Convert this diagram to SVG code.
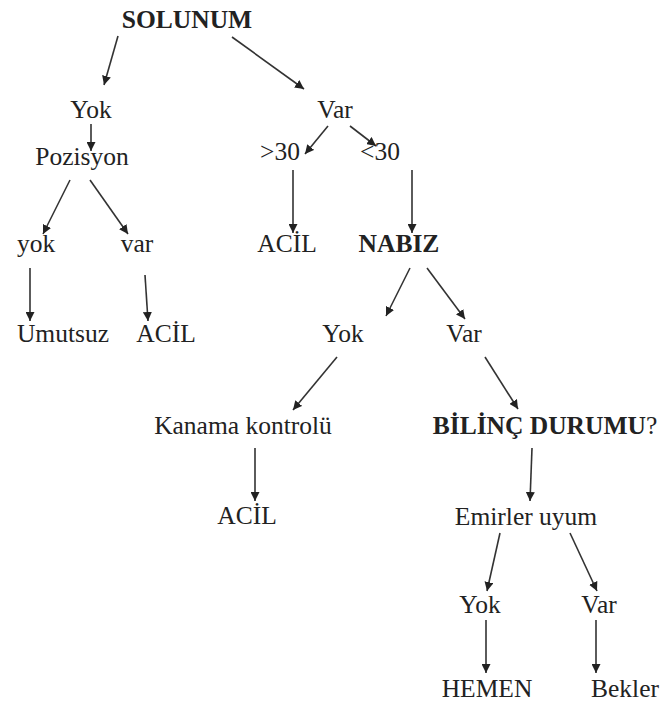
<svg xmlns="http://www.w3.org/2000/svg" width="661" height="711" viewBox="0 0 661 711">
<style>
text{font-family:'Liberation Serif','DejaVu Serif',serif;font-size:25.5px;fill:#222;text-anchor:middle}
.b{font-weight:bold}
.c line{stroke:#333;stroke-width:1.6;marker-end:url(#ah)}
</style>
<defs>
<marker id="ah" viewBox="0 0 10 10" refX="10" refY="5" markerWidth="9" markerHeight="9" orient="auto" markerUnits="userSpaceOnUse">
<path d="M0,0 L10,5 L0,10 z" fill="#222"/>
</marker>
</defs>
<rect width="661" height="711" fill="#fff"/>
<g class="c" id="connectors">
<line x1="118" y1="36" x2="104" y2="85"/>
<line x1="232" y1="37" x2="304" y2="89"/>
<line x1="91" y1="124" x2="91" y2="151"/>
<line x1="328" y1="126" x2="305" y2="154"/>
<line x1="350" y1="126" x2="376" y2="146"/>
<line x1="70" y1="180" x2="43" y2="234"/>
<line x1="90" y1="180" x2="128" y2="234"/>
<line x1="293" y1="170" x2="293" y2="233"/>
<line x1="412" y1="170" x2="412" y2="233"/>
<line x1="30" y1="268" x2="30" y2="321"/>
<line x1="145" y1="275" x2="148" y2="321"/>
<line x1="410" y1="268" x2="386" y2="316"/>
<line x1="427" y1="268" x2="465" y2="319"/>
<line x1="337" y1="357" x2="293" y2="410"/>
<line x1="485" y1="357" x2="518" y2="409"/>
<line x1="255" y1="448" x2="255" y2="501"/>
<line x1="532" y1="448" x2="530" y2="501"/>
<line x1="500" y1="533" x2="487" y2="591"/>
<line x1="570" y1="533" x2="597" y2="591"/>
<line x1="486" y1="620" x2="486" y2="673"/>
<line x1="596" y1="620" x2="596" y2="673"/>
</g>
<g id="solunum"><text class="b" x="187" y="28">SOLUNUM</text></g>
<g id="yok1"><text x="91" y="118">Yok</text></g>
<g id="pozisyon"><text x="82" y="165">Pozisyon</text></g>
<g id="var1"><text x="335" y="118">Var</text></g>
<g id="gt30"><text x="280" y="160">&gt;30</text></g>
<g id="lt30"><text x="380" y="160">&lt;30</text></g>
<g id="yok2"><text x="36" y="252">yok</text></g>
<g id="var2"><text x="137" y="252">var</text></g>
<g id="acil1"><text x="287" y="252">ACİL</text></g>
<g id="nabiz"><text class="b" x="399" y="252">NABIZ</text></g>
<g id="umutsuz"><text x="63" y="342">Umutsuz</text></g>
<g id="acil2"><text x="166" y="342">ACİL</text></g>
<g id="yok3"><text x="343" y="342">Yok</text></g>
<g id="var3"><text x="464" y="342">Var</text></g>
<g id="kanama"><text x="243" y="434">Kanama kontrolü</text></g>
<g id="bilinc"><text x="545" y="434"><tspan class="b">BİLİNÇ DURUMU</tspan>?</text></g>
<g id="acil3"><text x="247" y="524">ACİL</text></g>
<g id="emirler"><text x="526" y="525">Emirler uyum</text></g>
<g id="yok4"><text x="480" y="613">Yok</text></g>
<g id="var4"><text x="599" y="613">Var</text></g>
<g id="hemen"><text x="487" y="697">HEMEN</text></g>
<g id="bekler"><text x="625" y="697">Bekler</text></g>
</svg>
